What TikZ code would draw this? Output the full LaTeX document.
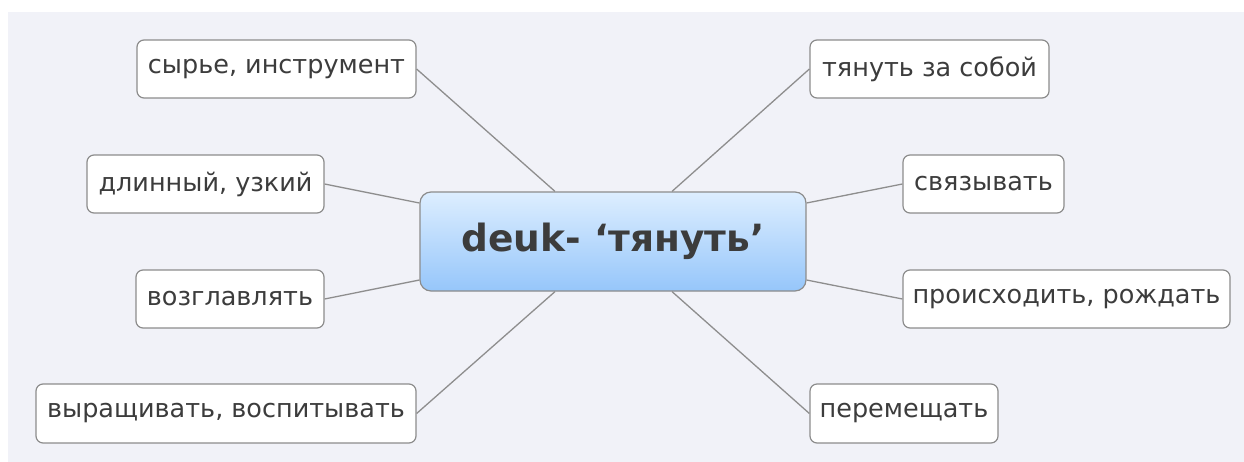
\documentclass[tikz,border=0pt]{standalone}
\usepackage{fontspec}
\setmainfont{DejaVu Sans}
\definecolor{panel}{HTML}{F1F2F8}
\definecolor{ink}{HTML}{3C3C3C}
\definecolor{edge}{HTML}{8C8C8C}
\definecolor{wire}{HTML}{8E8E8E}
\definecolor{hubtop}{HTML}{DDEEFF}
\definecolor{hubbot}{HTML}{96C6FA}
\tikzset{
  leaf/.style={draw=edge, line width=1.2pt, fill=white, rounded corners=7pt,
    inner sep=0pt, text=ink, font=\fontsize{25.5}{29}\selectfont},
  hub/.style={draw=edge, line width=1.2pt, rounded corners=11pt, inner sep=0pt,
    top color=hubtop, bottom color=hubbot, text=ink,
    font=\fontsize{37.5}{42}\selectfont\bfseries},
  link/.style={draw=wire, line width=1.3pt}
}
\begin{document}
\begin{tikzpicture}[x=1pt,y=-1pt]
\useasboundingbox (0,0) rectangle (1244,461);
\fill[white] (-5,-5) rectangle (1250,470);
\fill[panel] (8,12) rectangle (1250,470);

% central idea
\node[hub, minimum width=386pt, minimum height=99pt] (c) at (613,241.5) {deuk- ‘тянуть’};

% left branches
\node[leaf, minimum width=279pt, minimum height=58pt] (l1) at (276.5,69) {сырье, инструмент};
\node[leaf, minimum width=237pt, minimum height=58pt] (l2) at (205.5,184) {длинный, узкий};
\node[leaf, minimum width=188pt, minimum height=58pt] (l3) at (230,299) {возглавлять};
\node[leaf, minimum width=380pt, minimum height=59pt] (l4) at (226,413.5) {выращивать, воспитывать};

% right branches
\node[leaf, minimum width=239pt, minimum height=58pt] (r1) at (929.5,69) {тянуть за собой};
\node[leaf, minimum width=161pt, minimum height=58pt] (r2) at (983.5,184) {связывать};
\node[leaf, minimum width=327pt, minimum height=58pt] (r3) at (1066.5,299) {происходить, рождать};
\node[leaf, minimum width=188pt, minimum height=59pt] (r4) at (904,413.5) {перемещать};

% connectors
\draw[link] (l1.east) -- ([xshift=-58pt]c.north);
\draw[link] (l2.east) -- ([yshift=38.5pt]c.west);
\draw[link] (l3.east) -- ([yshift=-38.5pt]c.west);
\draw[link] (l4.east) -- ([xshift=-58pt]c.south);
\draw[link] (r1.west) -- ([xshift=59pt]c.north);
\draw[link] (r2.west) -- ([yshift=38.5pt]c.east);
\draw[link] (r3.west) -- ([yshift=-38.5pt]c.east);
\draw[link] (r4.west) -- ([xshift=59pt]c.south);
\end{tikzpicture}
\end{document}
